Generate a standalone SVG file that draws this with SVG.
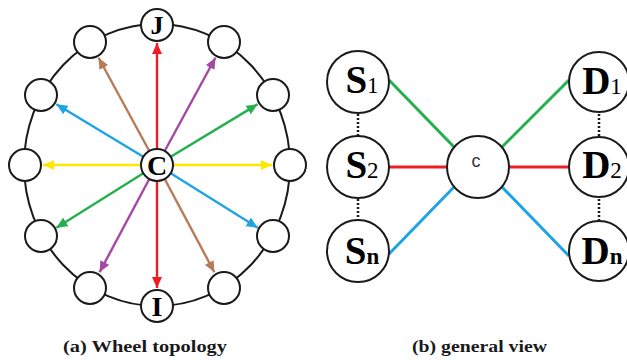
<svg xmlns="http://www.w3.org/2000/svg" width="627" height="362" viewBox="0 0 627 362">
<style>
.node{fill:#fff;stroke:#1a1a1a;stroke-width:2}
.ring{fill:none;stroke:#1a1a1a;stroke-width:2}
.lbl{font-family:"Liberation Serif",serif;font-weight:bold;fill:#000;text-anchor:middle}
.sub{font-family:"Liberation Serif",serif;fill:#000}
.arr{stroke-width:2.4;fill:none}
.ln{stroke-width:3;fill:none}
.dot{stroke:#1a1a1a;stroke-width:2.5;stroke-dasharray:2 2;fill:none}
.cap{font-family:"Liberation Serif",serif;font-weight:bold;font-size:17px;fill:#1a1a1a}
</style>
<defs>
<marker id="mr" markerUnits="userSpaceOnUse" markerWidth="12" markerHeight="10" refX="11" refY="5" orient="auto"><path d="M0,0 L11,5 L0,10 z" fill="#ee1c24"/></marker>
<marker id="mbr" markerUnits="userSpaceOnUse" markerWidth="12" markerHeight="10" refX="11" refY="5" orient="auto"><path d="M0,0 L11,5 L0,10 z" fill="#b97a57"/></marker>
<marker id="mp" markerUnits="userSpaceOnUse" markerWidth="12" markerHeight="10" refX="11" refY="5" orient="auto"><path d="M0,0 L11,5 L0,10 z" fill="#a349a4"/></marker>
<marker id="mb" markerUnits="userSpaceOnUse" markerWidth="12" markerHeight="10" refX="11" refY="5" orient="auto"><path d="M0,0 L11,5 L0,10 z" fill="#1ea3e6"/></marker>
<marker id="mg" markerUnits="userSpaceOnUse" markerWidth="12" markerHeight="10" refX="11" refY="5" orient="auto"><path d="M0,0 L11,5 L0,10 z" fill="#22b14c"/></marker>
<marker id="my" markerUnits="userSpaceOnUse" markerWidth="12" markerHeight="10" refX="11" refY="5" orient="auto"><path d="M0,0 L11,5 L0,10 z" fill="#ffe800"/></marker>
</defs>

<ellipse class="ring" cx="157" cy="165" rx="133" ry="141"/>

<g id="connectors">
<line class="arr" stroke="#ee1c24" marker-end="url(#mr)" x1="157" y1="149" x2="157" y2="43"/>
<line class="arr" stroke="#ee1c24" marker-end="url(#mr)" x1="157" y1="181" x2="157" y2="288"/>
<line class="arr" stroke="#b97a57" marker-end="url(#mbr)" x1="149.3" y1="151" x2="98.6" y2="57.8"/>
<line class="arr" stroke="#b97a57" marker-end="url(#mbr)" x1="164.7" y1="179" x2="214.4" y2="272.2"/>
<line class="arr" stroke="#a349a4" marker-end="url(#mp)" x1="164.7" y1="151" x2="215.4" y2="57.8"/>
<line class="arr" stroke="#a349a4" marker-end="url(#mp)" x1="149.3" y1="179" x2="99.6" y2="272.2"/>
<line class="arr" stroke="#1ea3e6" marker-end="url(#mb)" x1="143.3" y1="156.7" x2="56.4" y2="104.3"/>
<line class="arr" stroke="#1ea3e6" marker-end="url(#mb)" x1="170.7" y1="173.3" x2="257.6" y2="227.7"/>
<line class="arr" stroke="#22b14c" marker-end="url(#mg)" x1="170.7" y1="156.7" x2="257.6" y2="104.3"/>
<line class="arr" stroke="#22b14c" marker-end="url(#mg)" x1="143.3" y1="173.3" x2="56.4" y2="227.7"/>
<line class="arr" stroke="#ffe800" marker-end="url(#my)" x1="141" y1="165" x2="43" y2="165"/>
<line class="arr" stroke="#ffe800" marker-end="url(#my)" x1="173" y1="165" x2="272" y2="165"/>

<line class="ln" stroke="#22b14c" x1="389" y1="80" x2="454" y2="147"/>
<line class="ln" stroke="#22b14c" x1="502" y1="147" x2="569" y2="80"/>
<line class="ln" stroke="#ee1c24" x1="389" y1="167" x2="447" y2="167"/>
<line class="ln" stroke="#ee1c24" x1="509" y1="167" x2="568" y2="167"/>
<line class="ln" stroke="#1ea3e6" x1="389" y1="254" x2="454" y2="187"/>
<line class="ln" stroke="#1ea3e6" x1="502" y1="187" x2="569" y2="256"/>
<line class="dot" x1="358" y1="114" x2="358" y2="136"/>
<line class="dot" x1="358" y1="199" x2="358" y2="220"/>
<line class="dot" x1="599" y1="114" x2="599" y2="136"/>
<line class="dot" x1="599" y1="199" x2="599" y2="220"/>
</g>

<g id="wJ"><circle class="node" cx="157" cy="25" r="16"/><text class="lbl" x="157" y="34" font-size="26">J</text></g>
<g id="wUL1"><circle class="node" cx="90" cy="42" r="16"/></g>
<g id="wUL2"><circle class="node" cx="41" cy="95" r="16"/></g>
<g id="wL"><circle class="node" cx="25" cy="165" r="16"/></g>
<g id="wLL2"><circle class="node" cx="41" cy="236" r="16"/></g>
<g id="wLL1"><circle class="node" cx="90" cy="288" r="16"/></g>
<g id="wI"><circle class="node" cx="157" cy="306" r="16"/><text class="lbl" x="157" y="316" font-size="28">I</text></g>
<g id="wUR1"><circle class="node" cx="224" cy="42" r="16"/></g>
<g id="wUR2"><circle class="node" cx="273" cy="95" r="16"/></g>
<g id="wR"><circle class="node" cx="290" cy="165" r="16"/></g>
<g id="wLR2"><circle class="node" cx="273" cy="236" r="16"/></g>
<g id="wLR1"><circle class="node" cx="224" cy="288" r="16"/></g>
<g id="wC"><circle class="node" cx="157" cy="165" r="16" stroke-width="2.5"/><text class="lbl" x="157" y="175" font-size="28">C</text></g>

<g id="S1"><circle class="node" cx="358" cy="82" r="31"/><text x="362" y="93" text-anchor="middle"><tspan class="lbl" font-size="39">S</tspan><tspan class="sub" font-size="23">1</tspan></text></g>
<g id="S2"><circle class="node" cx="358" cy="167" r="31"/><text x="362" y="178" text-anchor="middle"><tspan class="lbl" font-size="39">S</tspan><tspan class="sub" font-size="23">2</tspan></text></g>
<g id="Sn"><circle class="node" cx="358" cy="251" r="31"/><text x="362" y="264" text-anchor="middle"><tspan class="lbl" font-size="39">S</tspan><tspan class="lbl" font-size="23">n</tspan></text></g>
<g id="Cc"><circle class="node" cx="478" cy="167" r="31"/><text x="476" y="167" text-anchor="middle" font-family="Liberation Sans, sans-serif" font-size="18" fill="#333">c</text></g>
<g id="D1"><circle class="node" cx="599" cy="82" r="30"/><text x="602" y="94" text-anchor="middle"><tspan class="lbl" font-size="39">D</tspan><tspan class="sub" font-size="23">1</tspan></text></g>
<g id="D2"><circle class="node" cx="599" cy="167" r="30"/><text x="602" y="178" text-anchor="middle"><tspan class="lbl" font-size="39">D</tspan><tspan class="sub" font-size="23">2</tspan></text></g>
<g id="Dn"><circle class="node" cx="599" cy="251" r="30"/><text x="602" y="264" text-anchor="middle"><tspan class="lbl" font-size="39">D</tspan><tspan class="lbl" font-size="23">n</tspan></text></g>

<text class="cap" x="63" y="352" textLength="164" lengthAdjust="spacingAndGlyphs">(a) Wheel topology</text>
<text class="cap" x="412" y="352" textLength="135" lengthAdjust="spacingAndGlyphs">(b) general view</text>
</svg>
